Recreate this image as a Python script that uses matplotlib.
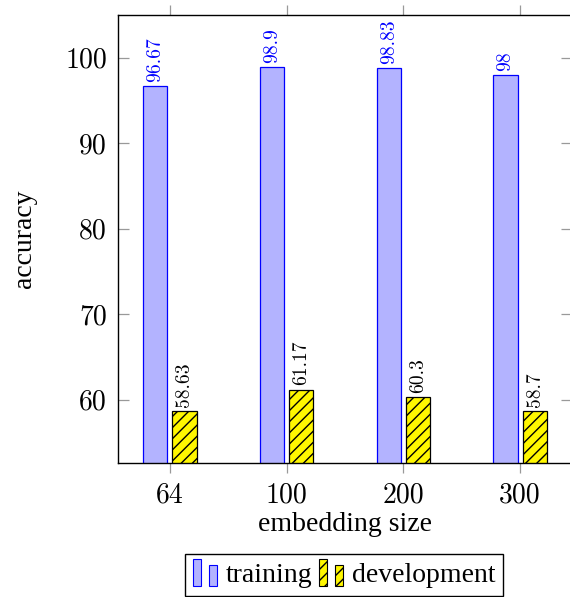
import numpy as np
import matplotlib
matplotlib.use('Agg')
import matplotlib.pyplot as plt
from matplotlib.patches import Rectangle
from matplotlib.legend_handler import HandlerBase

# data
sizes = ['64', '100', '200', '300']
training = [96.67, 98.9, 98.83, 98]
development = [58.63, 61.17, 60.3, 58.7]
train_labels = ['96.67', '98.9', '98.83', '98']
dev_labels = ['58.63', '61.17', '60.3', '58.7']

plt.rcParams['font.family'] = ['cmr10', 'DejaVu Serif']
plt.rcParams['hatch.linewidth'] = 1.0
plt.rcParams['axes.unicode_minus'] = False
words = ['Liberation Serif', 'DejaVu Serif']


class BarPair(HandlerBase):
    # pgfplots style ybar legend: two small bars
    def create_artists(self, legend, orig_handle, xdescent, ydescent,
                       width, height, fontsize, trans):
        w = width * 0.32
        h = height * 1.35
        y0 = -ydescent - height * 0.2
        out = []
        for x0, hh in [(0, h), (width - w, h * 0.8)]:
            r = Rectangle((-xdescent + x0, y0), w, hh,
                          facecolor=orig_handle.get_facecolor(),
                          edgecolor=orig_handle.get_edgecolor(),
                          hatch=orig_handle.get_hatch(), lw=0.8,
                          transform=trans)
            out.append(r)
        return out


fig = plt.figure(figsize=(5.70, 5.97), dpi=100)
ax = fig.add_axes([118 / 570, 1 - 463 / 597, 454 / 570, 448 / 597])

x = np.arange(len(sizes))
bw = 0.208
off = 0.125
b1 = ax.bar(x - off, training, bw, color=(0.7, 0.7, 1.0),
            edgecolor='blue', lw=0.9, label='training')
b2 = ax.bar(x + off, development, bw, color=(1.0, 0.97, 0.0),
            edgecolor='black', lw=0.9, hatch='///', label='development')

for xi, v, t in zip(x, training, train_labels):
    ax.annotate(t, (xi - off, v), xytext=(0, 3), textcoords='offset points',
                rotation=90, ha='center', va='bottom', color='blue', fontsize=14)
for xi, v, t in zip(x, development, dev_labels):
    ax.annotate(t, (xi + off, v), xytext=(0, 3), textcoords='offset points',
                rotation=90, ha='center', va='bottom', color='black', fontsize=14)

ax.set_xlim(-0.445, 3.445)
ax.set_ylim(52.58, 105.0)
ax.set_xticks(x)
ax.set_xticklabels(sizes)
ax.set_yticks([60, 70, 80, 90, 100])

ax.tick_params(axis='x', direction='out', top=True, bottom=True, length=7.5,
               color='0.6', width=0.9, labelsize=20, pad=6)
ax.tick_params(axis='y', direction='in', left=True, right=True, length=8,
               color='0.6', width=0.9, labelsize=20, pad=8)
for s in ax.spines.values():
    s.set_linewidth(1.0)

ax.set_xlabel('embedding size', fontsize=20, labelpad=3, family=words)
ax.set_ylabel('accuracy', fontsize=20, labelpad=20, family=words)

fig.legend([b1.patches[0], b2.patches[0]],
           ['training', 'development'],
           handler_map={Rectangle: BarPair()},
           loc='upper center', bbox_to_anchor=(344 / 570, 1 - 540 / 597),
           ncol=2, frameon=True, fancybox=False,
           prop={'family': words, 'size': 20},
           edgecolor='black', framealpha=1, handlelength=0.87,
           handletextpad=0.3, columnspacing=0.25, borderpad=0.3)

fig.savefig('out.png', dpi=100)
